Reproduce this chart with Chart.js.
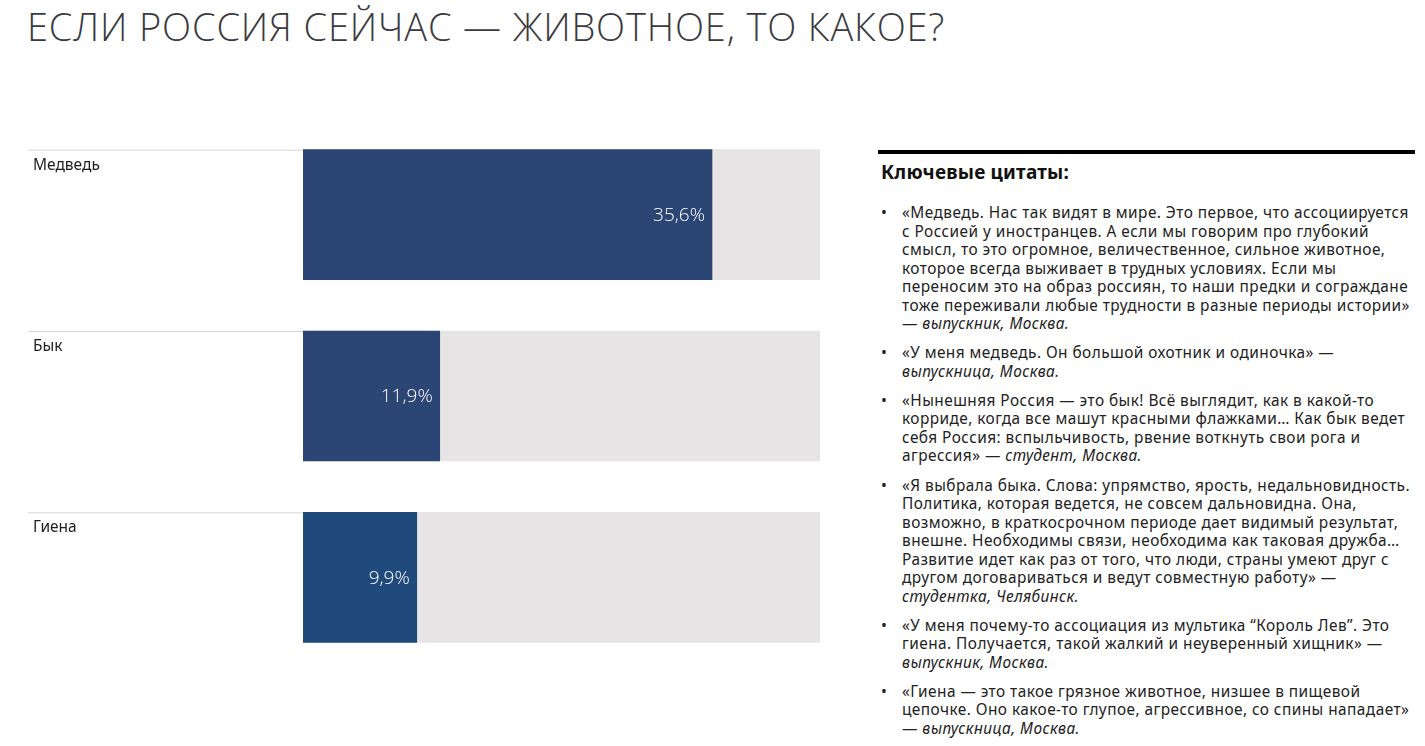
<!DOCTYPE html>
<html lang="ru">
<head>
<meta charset="utf-8">
<script src="https://cdn.jsdelivr.net/npm/chart.js@4/dist/chart.umd.min.js"></script>
<style>
  html, body { margin: 0; padding: 0; background: #fff; }
  body { width: 1425px; height: 746px; position: relative; overflow: hidden; font-family: "Noto Sans", "Open Sans", sans-serif; color: #222; }
  #title { position: absolute; left: 27px; top: 0px; margin: 0; font-family: "Open Sans", "Noto Sans", sans-serif; font-weight: 300; font-size: 38px; letter-spacing: 0.85px; color: #3b3a40; white-space: nowrap; }
  #chart { position: absolute; left: 0; top: 0; }
  #quotes { position: absolute; left: 878px; top: 150px; width: 537px; border-top: 4px solid #000; }
  #quotes h2 { margin: 5px 0 0 3px; font-size: 19px; font-weight: 700; color: #111; letter-spacing: 0.2px; }
  #quotes ul { margin: 19px 0 0 0; padding: 0 0 0 24px; list-style: none; }
  #quotes li { position: relative; font-size: 15.4px; letter-spacing: 0.45px; line-height: 18.5px; white-space: nowrap; margin-bottom: 10.7px; color: #222; }
  #quotes li::before { content: "•"; position: absolute; left: -21px; top: 0; }
  #quotes em { font-style: italic; }
</style>
</head>
<body>
<h1 id="title">ЕСЛИ РОССИЯ СЕЙЧАС — ЖИВОТНОЕ, ТО КАКОЕ?</h1>
<canvas id="chart" width="850" height="746"></canvas>
<div id="quotes">
  <h2>Ключевые цитаты:</h2>
  <ul>
    <li>«Медведь. Нас так видят в мире. Это первое, что ассоциируется<br>с Россией у иностранцев. А если мы говорим про глубокий<br>смысл, то это огромное, величественное, сильное животное,<br>которое всегда выживает в трудных условиях. Если мы<br>переносим это на образ россиян, то наши предки и сограждане<br>тоже переживали любые трудности в разные периоды истории»<br>— <em>выпускник, Москва.</em></li>
    <li>«У меня медведь. Он большой охотник и одиночка» —<br><em>выпускница, Москва.</em></li>
    <li>«Нынешняя Россия — это бык! Всё выглядит, как в какой-то<br>корриде, когда все машут красными флажками… Как бык ведет<br>себя Россия: вспыльчивость, рвение воткнуть свои рога и<br>агрессия» — <em>студент, Москва.</em></li>
    <li>«Я выбрала быка. Слова: упрямство, ярость, недальновидность.<br>Политика, которая ведется, не совсем дальновидна. Она,<br>возможно, в краткосрочном периоде дает видимый результат,<br>внешне. Необходимы связи, необходима как таковая дружба…<br>Развитие идет как раз от того, что люди, страны умеют друг с<br>другом договариваться и ведут совместную работу» —<br><em>студентка, Челябинск.</em></li>
    <li>«У меня почему-то ассоциация из мультика “Король Лев”. Это<br>гиена. Получается, такой жалкий и неуверенный хищник» —<br><em>выпускник, Москва.</em></li>
    <li>«Гиена — это такое грязное животное, низшее в пищевой<br>цепочке. Оно какое-то глупое, агрессивное, со спины нападает»<br>— <em>выпускница, Москва.</em></li>
  </ul>
</div>
<script>
// данные
const categories = ['Медведь', 'Бык', 'Гиена'];
const shares = [35.6, 11.9, 9.9];
const scaleMax = 45;
const barColors = ['#2b4574', '#2b4574', '#214a7c'];
const trackColor = '#e6e4e5';

// подписи категорий, разделители и значения
const rowDecor = {
    id: 'rowDecor',
    afterDatasetsDraw(chart) {
        const ctx = chart.ctx;
        const x0 = chart.scales.x.getPixelForValue(0);
        const meta = chart.getDatasetMeta(0);
        ctx.save();
        meta.data.forEach((bar, i) => {
            const top = bar.y - bar.height / 2;
            ctx.strokeStyle = '#d6d6d6';
            ctx.lineWidth = 1;
            ctx.beginPath();
            ctx.moveTo(28, top + 0.5);
            ctx.lineTo(x0, top + 0.5);
            ctx.stroke();

            ctx.fillStyle = '#1e1e1e';
            ctx.font = '15.5px "Noto Sans", sans-serif';
            ctx.textAlign = 'left';
            ctx.textBaseline = 'alphabetic';
            ctx.fillText(categories[i], 33, top + 20);

            ctx.fillStyle = '#ffffff';
            ctx.font = '300 19px "Open Sans", "Noto Sans", sans-serif';
            ctx.textAlign = 'right';
            ctx.textBaseline = 'middle';
            ctx.fillText(shares[i].toFixed(1).replace('.', ',') + '%', bar.x - 7, bar.y + 1);
        });
        ctx.restore();
    }
};

new Chart(document.getElementById('chart'), {
    type: 'bar',
    data: {
        labels: categories,
        datasets: [{
            data: shares,
            backgroundColor: barColors,
            barThickness: 130,
            grouped: false,
            order: 0
        }, {
            data: categories.map(() => scaleMax),
            backgroundColor: trackColor,
            barThickness: 130,
            grouped: false,
            order: 1
        }]
    },
    plugins: [rowDecor],
    options: {
        indexAxis: 'y',
        responsive: false,
        animation: false,
        layout: { padding: { left: 303, right: 30, top: 124, bottom: 78 } },
        scales: {
            x: { display: false, min: 0, max: scaleMax },
            y: { display: false }
        },
        plugins: {
            legend: { display: false },
            tooltip: { enabled: false }
        }
    }
});
</script>
</body>
</html>
